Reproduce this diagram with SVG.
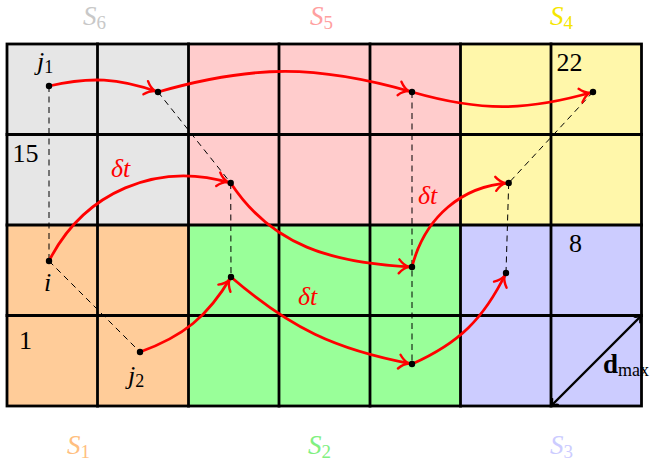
<svg xmlns="http://www.w3.org/2000/svg" width="657" height="465" viewBox="0 0 657 465">
<style>
  .grid{stroke:#000;stroke-width:2.8;fill:none;stroke-linecap:square}
  .dash{stroke:#000;stroke-width:1;stroke-dasharray:6 4.5;fill:none}
  .arr{stroke:#ff0000;stroke-width:2.8;fill:none;marker-end:url(#ar)}
  .dot{fill:#000}
  .t{font-family:"Liberation Serif","Times New Roman",serif;font-size:26px}
  .it{font-style:italic}
  .sub{font-size:18px}
  .reg{font-size:27px}
  .reg .sub{font-size:19px}
</style>
<defs>
  <marker id="ar" markerUnits="userSpaceOnUse" markerWidth="20" markerHeight="20" viewBox="-12 -10 20 20" refX="3" refY="0" orient="auto" overflow="visible">
    <path d="M-10,-7 C-6.5,-2.7 -2.5,-0.6 0,0 C-2.5,0.6 -6.5,2.7 -10,7" fill="none" stroke="#ff0000" stroke-width="2.4" stroke-linecap="round"/>
  </marker>
  <marker id="ab" markerUnits="userSpaceOnUse" markerWidth="20" markerHeight="20" viewBox="-12 -10 20 20" refX="0" refY="0" orient="auto-start-reverse" overflow="visible">
    <path d="M-6,-4 C-4,-1.6 -1.6,-0.4 0,0 C-1.6,0.4 -4,1.6 -6,4" fill="none" stroke="#000" stroke-width="1.8" stroke-linecap="round"/>
  </marker>
</defs>

<g id="regions">
  <rect id="S6" x="7" y="44" width="181.5" height="181" fill="#e6e6e6"/>
  <rect id="S5" x="188.5" y="44" width="272" height="181" fill="#ffcccc"/>
  <rect id="S4" x="460.5" y="44" width="181" height="181" fill="#fff7aa"/>
  <rect id="S1" x="7" y="225" width="181.5" height="181" fill="#ffcc99"/>
  <rect id="S2" x="188.5" y="225" width="272" height="181" fill="#99ff99"/>
  <rect id="S3" x="460.5" y="225" width="181" height="181" fill="#ccccff"/>
</g>

<g id="gridlines" class="grid">
  <rect x="7" y="44" width="634.5" height="362"/>
  <path d="M97.5,44V406M188.5,44V406M279,44V406M370,44V406M460.5,44V406M551,44V406"/>
  <path d="M7,134.5H641.5M7,225H641.5M7,315.5H641.5"/>
</g>

<g id="region-labels" class="t reg">
  <text x="83" y="25" fill="#c8c8c8"><tspan class="it">S</tspan><tspan class="sub" dy="4">6</tspan></text>
  <text x="310" y="25" fill="#ffa0a0"><tspan class="it">S</tspan><tspan class="sub" dy="4">5</tspan></text>
  <text x="550" y="25" fill="#f5e600"><tspan class="it">S</tspan><tspan class="sub" dy="4">4</tspan></text>
  <text x="67" y="454" fill="#ffbf80"><tspan class="it">S</tspan><tspan class="sub" dy="4">1</tspan></text>
  <text x="308" y="454" fill="#80f080"><tspan class="it">S</tspan><tspan class="sub" dy="4">2</tspan></text>
  <text x="550" y="454" fill="#ccccff"><tspan class="it">S</tspan><tspan class="sub" dy="4">3</tspan></text>
</g>

<g id="cell-numbers" class="t" fill="#000">
  <text x="12.5" y="162">15</text>
  <text x="556.5" y="71">22</text>
  <text x="569" y="252">8</text>
  <text x="19" y="349">1</text>
</g>

<g id="connectors">
  <g id="dashed">
    <path class="dash" d="M49,86V261"/>
    <path class="dash" d="M158,92L230.7,183"/>
    <path class="dash" d="M230.7,183L231,277"/>
    <path class="dash" d="M412,92V364"/>
    <path class="dash" d="M593,92L508.7,183"/>
    <path class="dash" d="M508.7,183L506,273"/>
    <path class="dash" d="M49,261L140,352"/>
  </g>
  <g id="arrows">
    <path class="arr" d="M49,86 C90.6,76.5 117.7,78 158,92"/>
    <path class="arr" d="M158,92 C253.6,64.6 316.4,64.6 412,92"/>
    <path class="arr" d="M412,92 C480.1,111.5 524.9,111.5 593,92"/>
    <path class="arr" d="M49,261 C84,192 157,161 230.7,183"/>
    <path class="arr" d="M230.7,183 C272,246 332,263 412,267"/>
    <path class="arr" d="M412,267 C425,216 463,186 508.7,183"/>
    <path class="arr" d="M140,352 C183.4,336.2 207.6,316.8 231,277"/>
    <path class="arr" d="M231,277 C290.6,328.3 334.8,349.4 412,364"/>
    <path class="arr" d="M412,364 C458.8,343.2 483.6,319 506,273"/>
  </g>
  <path id="dmax-line" d="M551,406L641.5,315.5" stroke="#000" stroke-width="2.4" fill="none" marker-start="url(#ab)" marker-end="url(#ab)"/>
</g>

<g id="delta-labels" class="t it" fill="#ff0000">
  <text x="111" y="177">δt</text>
  <text x="418" y="204">δt</text>
  <text x="298" y="305">δt</text>
</g>

<g id="points">
  <g id="j1"><circle class="dot" cx="49" cy="86" r="3.2"/><text class="t" x="37" y="70"><tspan class="it">j</tspan><tspan class="sub" dy="3">1</tspan></text></g>
  <g id="p2"><circle class="dot" cx="158" cy="92" r="3.2"/></g>
  <g id="p3"><circle class="dot" cx="412" cy="92" r="3.2"/></g>
  <g id="p4"><circle class="dot" cx="593" cy="92" r="3.2"/></g>
  <g id="i"><circle class="dot" cx="49" cy="261" r="3.2"/><text class="t it" x="44" y="291">i</text></g>
  <g id="q2"><circle class="dot" cx="230.7" cy="183" r="3.2"/></g>
  <g id="q3"><circle class="dot" cx="412" cy="267" r="3.2"/></g>
  <g id="q4"><circle class="dot" cx="508.7" cy="183" r="3.2"/></g>
  <g id="j2"><circle class="dot" cx="140" cy="352" r="3.2"/><text class="t" x="128" y="384"><tspan class="it">j</tspan><tspan class="sub" dy="3">2</tspan></text></g>
  <g id="r2"><circle class="dot" cx="231" cy="277" r="3.2"/></g>
  <g id="r3"><circle class="dot" cx="412" cy="364" r="3.2"/></g>
  <g id="r4"><circle class="dot" cx="506" cy="273" r="3.2"/></g>
</g>

<g id="dmax-label" class="t" fill="#000">
  <text x="603" y="373"><tspan font-weight="bold" font-size="27">d</tspan><tspan class="sub" font-size="19" dy="3">max</tspan></text>
</g>
</svg>
